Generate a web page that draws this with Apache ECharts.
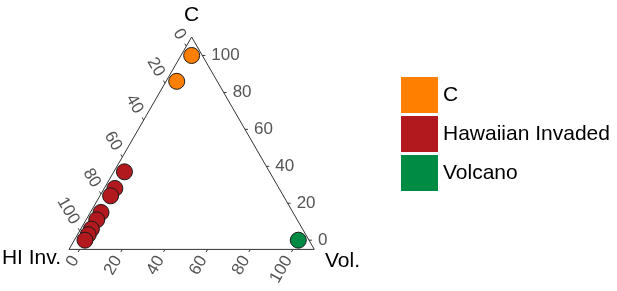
<!DOCTYPE html>
<html>
<head>
<meta charset="utf-8">
<script src="https://cdn.jsdelivr.net/npm/echarts@6/dist/echarts.min.js"></script>
<style>
  html, body { margin: 0; padding: 0; background: #fff; }
  #main { width: 617px; height: 291px; }
</style>
</head>
<body>
<div id="main"></div>
<script>
// 数据 : [HI Inv., C, Vol.]
var groupNames = ["C", "Hawaiian Invaded", "Volcano"];
var pointsC = [[0, 100, 0], [14, 86, 0]];
var pointsHawaiian = [[63, 37, 0], [72, 28, 0], [76, 24, 0], [85, 15, 0], [89, 11, 0], [94, 6, 0], [97, 3, 0], [100, 0, 0]];
var pointsVolcano = [[0, 0, 100]];
var tickValues = [0, 20, 40, 60, 80, 100];
var axisMin = -5, axisMax = 110;

(function() {
  var myChart = echarts.init(document.getElementById("main"));
  var font = '"Liberation Sans", Arial, sans-serif';
  var S3 = Math.sqrt(3) / 2;

  // 三元坐标 -> 平面坐标
  function toXY(p) {
    return [p[2] + p[1] / 2, p[1] * S3];
  }

  var bl = toXY([axisMax, axisMin, axisMin]);
  var br = toXY([axisMin, axisMin, axisMax]);
  var top = toXY([axisMin, axisMax, axisMin]);

  // 刻度数据: [轴序号, 数值]  0=Vol(底) 1=C(右) 2=HI(左)
  var tickData = [];
  [0, 1, 2].forEach(function(a) {
    tickValues.forEach(function(v) { tickData.push([a, v]); });
  });

  function tickPoint(a, v) {
    var rest = 100 - v - axisMin;
    if (a === 0) return [rest, axisMin, v];
    if (a === 1) return [axisMin, v, rest];
    return [v, rest, axisMin];
  }
  var tickDir = [[-0.5, 0.866], [1, 0], [-0.5, -0.866]];
  var tickRot = [Math.PI / 3, 0, -Math.PI / 3];
  var tickAlign = ["right", "left", "right"];

  var option = {
    animation: false,
    grid: { left: 69, top: 37, width: 245.3, height: 212.4, show: false },
    xAxis: { type: "value", min: bl[0], max: br[0], show: false },
    yAxis: { type: "value", min: bl[1], max: top[1], show: false },
    legend: {
      data: groupNames,
      orient: "vertical",
      left: 401,
      top: 77,
      padding: 0,
      itemWidth: 37,
      itemHeight: 36,
      itemGap: 3,
      icon: "rect",
      itemStyle: { borderWidth: 0 },
      textStyle: { fontFamily: font, fontSize: 21, color: "#000" }
    },
    graphic: [
      { type: "text", x: 191.5, y: 15, style: { text: "C", font: "21px " + font, fill: "#000", align: "center", verticalAlign: "middle" } },
      { type: "text", x: 61, y: 258, style: { text: "HI Inv.", font: "21px " + font, fill: "#000", align: "right", verticalAlign: "middle" } },
      { type: "text", x: 325, y: 261, style: { text: "Vol.", font: "21px " + font, fill: "#000", align: "left", verticalAlign: "middle" } }
    ],
    series: [
      {
        type: "line",
        data: [bl, br, top, bl],
        symbol: "none",
        silent: true,
        lineStyle: { color: "#333", width: 1 },
        z: 1
      },
      {
        type: "custom",
        data: tickData,
        clip: false,
        silent: true,
        z: 1,
        renderItem: function(params, api) {
          var a = api.value(0), v = api.value(1);
          var c = api.coord(toXY(tickPoint(a, v)));
          var d = tickDir[a];
          return {
            type: "group",
            children: [
              { type: "line", shape: { x1: c[0], y1: c[1], x2: c[0] + d[0] * 3, y2: c[1] + d[1] * 3 }, style: { stroke: "#333", lineWidth: 1 } },
              { type: "text", x: c[0] + d[0] * 9, y: c[1] + d[1] * 9, rotation: tickRot[a],
                style: { text: String(v), font: "17px " + font, fill: "#555", align: tickAlign[a], verticalAlign: "middle" } }
            ]
          };
        }
      },
      {
        name: "C", type: "scatter", symbolSize: 16,
        data: pointsC.map(toXY),
        itemStyle: { color: "#ff7f00", borderColor: "#1a1a1a", borderWidth: 1, opacity: 1 },
        z: 3
      },
      {
        name: "Hawaiian Invaded", type: "scatter", symbolSize: 16,
        data: pointsHawaiian.map(toXY),
        itemStyle: { color: "#b2191e", borderColor: "#1a1a1a", borderWidth: 1, opacity: 1 },
        z: 3
      },
      {
        name: "Volcano", type: "scatter", symbolSize: 16,
        data: pointsVolcano.map(toXY),
        itemStyle: { color: "#008b45", borderColor: "#1a1a1a", borderWidth: 1, opacity: 1 },
        z: 3
      }
    ]
  };

  myChart.setOption(option);
  window.addEventListener("resize", function() {
    myChart.resize();
  });
})();
</script>
</body>
</html>
